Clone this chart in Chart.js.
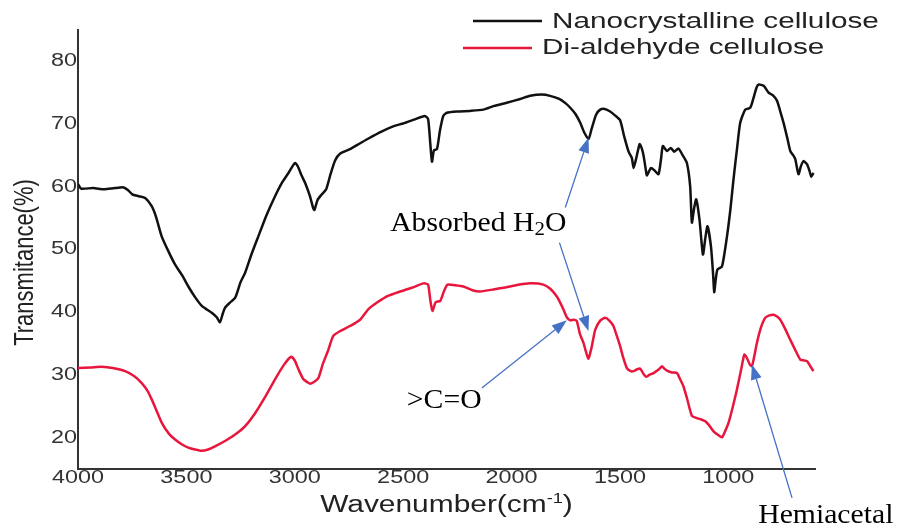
<!DOCTYPE html>
<html>
<head>
<meta charset="utf-8">
<script src="https://cdn.jsdelivr.net/npm/chart.js@4.4.1/dist/chart.umd.min.js"></script>
<style>
  html, body { margin: 0; padding: 0; background: #fff; }
  canvas { display: block; }
</style>
</head>
<body>
<canvas id="ftirChart" width="898" height="525"></canvas>
<script>
// FTIR spectra, wavenumber (cm-1) and transmittance (%)
const ncWave = [4000, 3985, 3930, 3880, 3830, 3790, 3770, 3750, 3720, 3690, 3660, 3640, 3614, 3580, 3552, 3520, 3491, 3460, 3429, 3400,
  3383, 3360, 3345, 3332, 3322, 3300, 3275, 3250, 3229, 3200, 3168, 3130, 3091, 3060, 3029, 3010, 2999, 2985, 2970, 2952,
  2930, 2915, 2909, 2895, 2875, 2855, 2835, 2814, 2790, 2745, 2700, 2660, 2600, 2540, 2500, 2450, 2400, 2385, 2375, 2367,
  2358, 2344, 2330, 2315, 2298, 2250, 2191, 2130, 2080, 2022, 1960, 1914, 1860, 1822, 1780, 1750, 1729, 1705, 1683, 1665,
  1645, 1630, 1610, 1591, 1570, 1545, 1520, 1499, 1480, 1460, 1445, 1437, 1425, 1409, 1400, 1391, 1380, 1375, 1357, 1340,
  1322, 1310, 1302, 1283, 1265, 1250, 1230, 1210, 1191, 1176, 1168, 1158, 1148, 1133, 1117, 1106, 1096, 1080, 1070, 1065,
  1058, 1050, 1029, 1006, 990, 976, 960, 945, 922, 899, 885, 870, 860, 837, 814, 795, 775, 760, 745, 728,
  714, 700, 691, 676, 665, 653, 637, 625, 617, 607];
const ncTrans = [60.4, 59.7, 59.8, 59.6, 59.8, 59.9, 59.5, 58.8, 58.5, 58.2, 56.9, 55.2, 52.1, 49.5, 47.6, 45.9, 44.1, 42.4, 41.0, 40.3,
  39.9, 39.2, 38.4, 39.8, 40.7, 41.5, 42.3, 44.8, 46.3, 49.2, 52.1, 55.5, 58.5, 60.6, 62.2, 63.3, 63.8, 63.2, 61.9, 60.6,
  58.5, 56.6, 56.3, 57.9, 58.8, 59.6, 62.0, 64.2, 65.3, 66.0, 66.9, 67.7, 68.8, 69.7, 70.1, 70.7, 71.3, 70.8, 67.0, 64.0,
  65.8, 66.0, 69.0, 71.3, 71.8, 72.0, 72.1, 72.3, 72.9, 73.4, 74.0, 74.5, 74.7, 74.5, 74.0, 73.3, 72.6, 71.6, 70.2, 68.7,
  67.6, 69.3, 71.5, 72.3, 72.4, 72.0, 71.3, 70.6, 68.0, 65.6, 64.6, 63.0, 64.5, 66.8, 66.2, 65.0, 62.6, 61.8, 63.0, 62.6,
  62.0, 64.5, 66.5, 65.7, 66.2, 65.6, 66.1, 65.0, 63.8, 60.1, 54.3, 56.5, 58.0, 54.8, 49.2, 51.8, 53.7, 50.5, 46.0, 43.2,
  45.2, 46.8, 47.3, 52.1, 56.5, 61.2, 66.0, 70.2, 72.3, 72.6, 74.0, 75.8, 76.3, 76.1, 75.0, 74.6, 73.7, 72.0, 70.2, 67.8,
  65.7, 65.0, 64.4, 62.0, 63.3, 64.1, 63.6, 62.5, 61.6, 62.2];

const daWave = [4000, 3940, 3891, 3840, 3783, 3740, 3706, 3680, 3660, 3640, 3614, 3580, 3552, 3520, 3491, 3460, 3429, 3400, 3368, 3320,
  3275, 3230, 3183, 3140, 3091, 3050, 3017, 3000, 2983, 2960, 2940, 2929, 2910, 2891, 2870, 2845, 2823, 2790, 2745, 2699,
  2660, 2622, 2570, 2514, 2460, 2406, 2385, 2375, 2365, 2350, 2329, 2310, 2295, 2260, 2222, 2180, 2145, 2090, 2037, 1980,
  1914, 1853, 1820, 1791, 1775, 1760, 1745, 1729, 1712, 1699, 1685, 1668, 1655, 1645, 1630, 1614, 1590, 1568, 1550, 1530,
  1515, 1499, 1485, 1468, 1450, 1437, 1420, 1406, 1390, 1379, 1365, 1345, 1320, 1306, 1295, 1283, 1260, 1237, 1222, 1207,
  1190, 1168, 1145, 1125, 1106, 1085, 1068, 1050, 1029, 1015, 999, 980, 960, 940, 926, 914, 900, 891, 880, 868,
  850, 830, 810, 791, 775, 760, 740, 714, 690, 668, 650, 637, 620, 607];
const daTrans = [31.1, 31.2, 31.3, 31.1, 30.6, 29.8, 28.7, 27.5, 26.1, 24.5, 22.4, 20.6, 19.7, 18.9, 18.4, 18.1, 17.9, 18.1, 18.6, 19.5,
  20.5, 21.8, 23.9, 26.3, 29.3, 31.6, 32.9, 32.3, 30.9, 29.3, 28.8, 28.6, 28.9, 29.5, 31.8, 34.0, 36.2, 37.0, 37.8, 38.8,
  40.5, 41.5, 42.6, 43.3, 43.9, 44.6, 44.4, 42.0, 40.2, 41.6, 41.8, 43.5, 44.4, 44.3, 44.1, 43.5, 43.3, 43.6, 43.9, 44.3,
  44.6, 44.4, 43.7, 42.5, 41.5, 40.4, 39.2, 38.7, 38.8, 38.6, 36.6, 35.1, 33.5, 32.6, 34.5, 37.2, 38.7, 39.1, 38.7, 37.8,
  36.3, 34.6, 32.8, 31.1, 30.6, 30.6, 30.9, 31.0, 30.1, 29.7, 30.0, 30.3, 30.9, 31.4, 31.0, 30.7, 30.4, 30.3, 29.3, 28.2,
  26.2, 23.5, 23.1, 22.9, 22.6, 21.8, 21.0, 20.5, 20.05, 21.0, 22.35, 24.8, 27.7, 31.0, 33.25, 32.7, 31.6, 31.4, 33.0, 35.1,
  37.5, 39.1, 39.5, 39.6, 39.3, 38.8, 37.5, 35.6, 33.9, 32.45, 32.3, 32.2, 31.3, 30.6];

const seriesNames = ['Nanocrystalline cellulose', 'Di-aldehyde cellulose'];
const xTicks = [4000, 3500, 3000, 2500, 2000, 1500, 1000];
const yTicks = [20, 30, 40, 50, 60, 70, 80];

// band callouts: label anchor and arrows (tail -> head) in wavenumber / transmittance
const calloutLabels = [
  { text: 'Absorbed H|2|O', wave: 2560, trans: 52.9 },
  { text: '>C=O', wave: 2483, trans: 24.8 },
  { text: 'Hemiacetal', wave: 862, trans: 6.4 }
];
const calloutArrows = [
  { from: [1752, 56.7], to: [1645, 67.8] },
  { from: [1779, 51.1], to: [1645, 37.0] },
  { from: [2137, 27.9], to: [1745, 38.7] },
  { from: [706, 10.4], to: [891, 31.65] }
];

const toPoints = (xs, ys) => xs.map((x, i) => ({ x: x, y: ys[i] }));

// draw text squeezed/stretched horizontally
function wideText(ctx, text, x, y, sx, align) {
  ctx.save();
  ctx.translate(x, y);
  ctx.scale(sx, 1);
  ctx.textAlign = align || 'left';
  ctx.fillText(text, 0, 0);
  ctx.restore();
}

function arrow(ctx, x1, y1, x2, y2) {
  const ang = Math.atan2(y2 - y1, x2 - x1);
  const len = 15, half = 5.5;
  const bx = x2 - len * Math.cos(ang), by = y2 - len * Math.sin(ang);
  ctx.beginPath();
  ctx.moveTo(x1, y1);
  ctx.lineTo(bx, by);
  ctx.stroke();
  ctx.beginPath();
  ctx.moveTo(x2, y2);
  ctx.lineTo(bx + half * Math.sin(ang), by - half * Math.cos(ang));
  ctx.lineTo(bx - half * Math.sin(ang), by + half * Math.cos(ang));
  ctx.closePath();
  ctx.fill();
}

const textLayer = {
  id: 'textLayer',
  afterDraw(chart) {
    const ctx = chart.ctx;
    const xs = chart.scales.x, ys = chart.scales.y;
    const area = chart.chartArea;

    // tick labels
    ctx.save();
    ctx.font = '18px "Liberation Sans", Arial, sans-serif';
    ctx.fillStyle = '#333';
    ctx.textBaseline = 'middle';
    xs.ticks.forEach(t => wideText(ctx, String(t.value), xs.getPixelForValue(t.value), area.bottom + 9, 1.3, 'center'));
    ys.ticks.forEach(t => wideText(ctx, String(t.value), area.left - 1, ys.getPixelForValue(t.value), 1.3, 'right'));

    // axis titles
    ctx.fillStyle = '#222';
    ctx.font = '22px "Liberation Sans", Arial, sans-serif';
    ctx.save();
    ctx.translate(25, (area.top + area.bottom) / 2 + 13);
    ctx.rotate(-Math.PI / 2);
    ctx.scale(1, 1.28);
    ctx.textAlign = 'center';
    ctx.fillText('Transmitance(%)', 0, 0);
    ctx.restore();

    const sx = 1.3;
    ctx.textBaseline = 'alphabetic';
    ctx.font = '23px "Liberation Sans", Arial, sans-serif';
    const main = 'Wavenumber(cm', close = ')';
    const wMain = ctx.measureText(main).width * sx;
    const wClose = ctx.measureText(close).width * sx;
    ctx.font = '14px "Liberation Sans", Arial, sans-serif';
    const wSup = ctx.measureText('-1').width * sx;
    let tx = (area.left + area.right) / 2 - (wMain + wSup + wClose) / 2;
    const ty = area.bottom + 43;
    ctx.font = '23px "Liberation Sans", Arial, sans-serif';
    wideText(ctx, main, tx, ty, sx);
    tx += wMain;
    ctx.font = '14px "Liberation Sans", Arial, sans-serif';
    wideText(ctx, '-1', tx, ty - 9, sx);
    tx += wSup;
    ctx.font = '23px "Liberation Sans", Arial, sans-serif';
    wideText(ctx, close, tx, ty, sx);

    // legend
    const legendPos = [[473, 542, 21, 552, 22], [463, 532, 48, 542, 48]];
    chart.data.datasets.forEach((ds, i) => {
      const p = legendPos[i];
      ctx.strokeStyle = ds.borderColor;
      ctx.lineWidth = 2.5;
      ctx.beginPath();
      ctx.moveTo(p[0], p[2]);
      ctx.lineTo(p[1], p[2]);
      ctx.stroke();
      ctx.fillStyle = '#222';
      ctx.font = '22px "Liberation Sans", Arial, sans-serif';
      ctx.textBaseline = 'middle';
      wideText(ctx, ds.label, p[3], p[4], 1.35);
    });

    // callouts
    ctx.strokeStyle = '#4472c4';
    ctx.fillStyle = '#4472c4';
    ctx.lineWidth = 1.3;
    calloutArrows.forEach(a => {
      arrow(ctx, xs.getPixelForValue(a.from[0]), ys.getPixelForValue(a.from[1]),
        xs.getPixelForValue(a.to[0]), ys.getPixelForValue(a.to[1]));
    });
    ctx.fillStyle = '#000';
    ctx.textBaseline = 'alphabetic';
    calloutLabels.forEach(l => {
      let x = xs.getPixelForValue(l.wave);
      const y = ys.getPixelForValue(l.trans);
      l.text.split('|').forEach((part, k) => {
        const sub = k === 1;
        ctx.font = (sub ? '19px' : '27px') + ' "Liberation Serif", "Times New Roman", serif';
        wideText(ctx, part, x, sub ? y + 4 : y, 1.1);
        x += ctx.measureText(part).width * 1.1;
      });
    });
    ctx.restore();
  }
};

const axisCommon = {
  type: 'linear',
  grid: { display: false, drawTicks: false },
  border: { display: true, color: '#333', width: 2 },
  ticks: { display: false }
};

new Chart(document.getElementById('ftirChart'), {
  type: 'line',
  data: {
    datasets: [
      {
        label: seriesNames[0],
        data: toPoints(ncWave, ncTrans),
        borderColor: '#111111',
        borderWidth: 2.5,
        pointRadius: 0,
        tension: 0.2,
        fill: false
      },
      {
        label: seriesNames[1],
        data: toPoints(daWave, daTrans),
        borderColor: '#e8163c',
        borderWidth: 2.5,
        pointRadius: 0,
        tension: 0.2,
        fill: false
      }
    ]
  },
  options: {
    responsive: false,
    devicePixelRatio: 1,
    animation: false,
    layout: { padding: { top: 30, right: 83, left: 0, bottom: 0 } },
    plugins: { legend: { display: false }, tooltip: { enabled: false } },
    scales: {
      x: Object.assign({}, axisCommon, {
        position: 'bottom',
        reverse: true,
        min: 600,
        max: 4000,
        afterBuildTicks: s => { s.ticks = xTicks.map(v => ({ value: v })); },
        afterFit: s => { s.height = 56; }
      }),
      y: Object.assign({}, axisCommon, {
        position: 'left',
        min: 15,
        max: 85,
        afterBuildTicks: s => { s.ticks = yTicks.map(v => ({ value: v })); },
        afterFit: s => { s.width = 78; }
      })
    }
  },
  plugins: [textLayer]
});
</script>
</body>
</html>
